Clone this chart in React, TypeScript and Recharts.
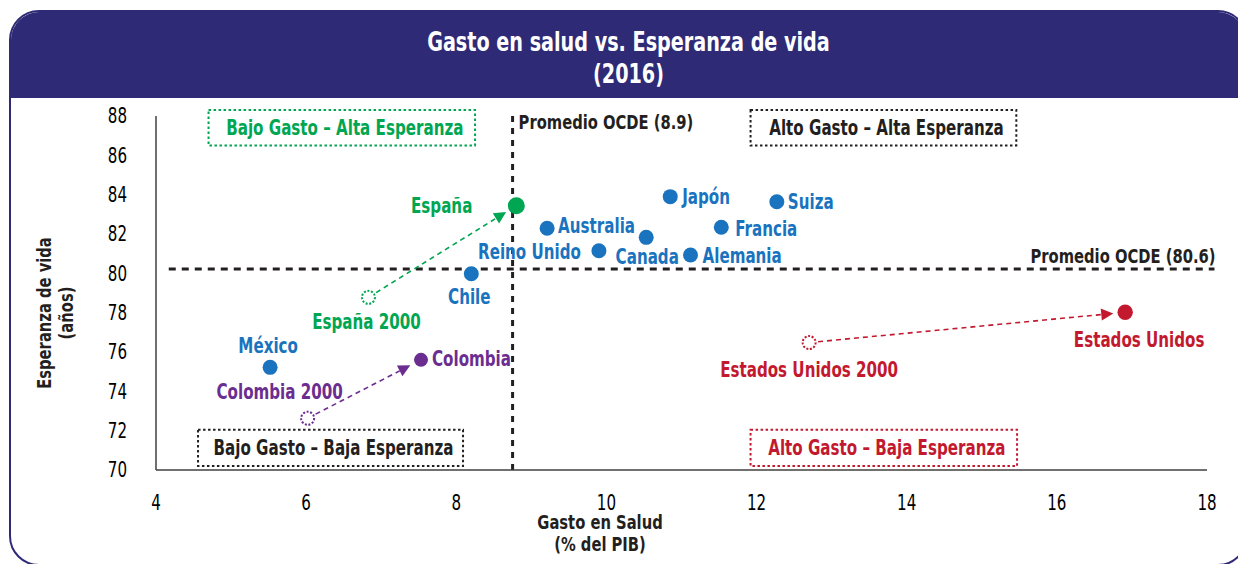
import React from 'react';
import { ScatterChart, Scatter, XAxis, YAxis, ReferenceLine, ReferenceArea, Label } from 'recharts';

const FONT = '"DejaVu Sans Condensed", "DejaVu Sans", sans-serif';
const SQUASH = 0.82; // the original uses a narrow face
const NAVY = '#2E2A76';
const BLUE = '#1A73BE';
const INK = '#231F20';

// paises OCDE (2016)
const paises = ['Japón', 'Suiza', 'Australia', 'Francia', 'Canada', 'Reino Unido', 'Alemania', 'Chile', 'México'];
const gastoPaises = [10.85, 12.27, 9.21, 11.53, 10.53, 9.9, 11.12, 8.2, 5.52];
const vidaPaises = [83.9, 83.64, 82.29, 82.34, 81.83, 81.15, 80.93, 79.98, 75.22];

// paises destacados, 2016 vs 2000
const destacados = ['España', 'Colombia', 'Estados Unidos'];
const gasto2016 = [8.8, 7.53, 16.91];
const vida2016 = [83.44, 75.6, 78.02];
const gasto2000 = [6.83, 6.02, 12.7];
const vida2000 = [78.78, 72.63, 76.48];
const coloresDestacados = ['#00A651', '#6B2D90', '#C3192F'];
const radiosDestacados = [8.5, 7, 7.7];

// promedios OCDE (posicion dibujada)
const lineaGasto = 8.75;
const lineaVida = 80.22;
const textoGasto = 'Promedio OCDE (8.9)';
const textoVida = 'Promedio OCDE (80.6)';

// cuadrantes
const cuadrantes = ['Bajo Gasto – Alta Esperanza', 'Alto Gasto – Alta Esperanza', 'Bajo Gasto – Baja Esperanza', 'Alto Gasto – Baja Esperanza'];
const cuadX1 = [4.7, 11.92, 4.56, 11.92];
const cuadX2 = [8.25, 15.46, 8.09, 15.47];
const cuadY1 = [86.5, 86.5, 70.2, 70.2];
const cuadY2 = [88.3, 88.3, 72.05, 72.05];
const coloresCuad = ['#00A651', INK, INK, '#C3192F'];

const xTicks = [4, 6, 8, 10, 12, 14, 16, 18];
const yTicks = [70, 72, 74, 76, 78, 80, 82, 84, 86, 88];

// donde va cada etiqueta respecto a su punto
const etiquetas: Record<string, { dx: number; dy: number; anchor: 'start' | 'middle' | 'end' }> = {
    'Japón': { dx: 12, dy: 0, anchor: 'start' },
    'Suiza': { dx: 11, dy: 0, anchor: 'start' },
    'Australia': { dx: 11, dy: -3, anchor: 'start' },
    'Francia': { dx: 14, dy: 1, anchor: 'start' },
    'Canada': { dx: 1, dy: 19, anchor: 'middle' },
    'Reino Unido': { dx: -18, dy: 1, anchor: 'end' },
    'Alemania': { dx: 12, dy: 1, anchor: 'start' },
    'Chile': { dx: -2, dy: 23, anchor: 'middle' },
    'México': { dx: -2, dy: -22, anchor: 'middle' },
    'España': { dx: -44, dy: 0, anchor: 'end' },
    'Colombia': { dx: 11, dy: -1, anchor: 'start' },
    'Estados Unidos': { dx: 14, dy: 27, anchor: 'middle' },
    'España 2000': { dx: -2, dy: 24, anchor: 'middle' },
    'Colombia 2000': { dx: -28, dy: -27, anchor: 'middle' },
    'Estados Unidos 2000': { dx: 0, dy: 27, anchor: 'middle' },
};

const datosPaises = paises.map((name, i) => ({ name, x: gastoPaises[i], y: vidaPaises[i] }));

// texto angosto: centrado verticalmente en y
const T = ({ x, y, anchor = 'start', fill = INK, size = 20, bold = true, rotate = 0, children }: any) => (
    <text transform={`translate(${x},${y}) rotate(${rotate}) scale(${SQUASH},1)`} dy="0.36em" textAnchor={anchor}
        fill={fill} fontFamily={FONT} fontWeight={bold ? 700 : 400} fontSize={size}>{children}</text>
);

const punto = (color: string, r: number, abierto = false) => (props: any) => {
    const { cx, cy, payload } = props;
    const e = etiquetas[payload.name] || { dx: 10, dy: 0, anchor: 'start' };
    return (
        <g>
            {abierto
                ? <circle cx={cx} cy={cy} r={r} fill="#fff" stroke={color} strokeWidth={2} strokeDasharray="2 1.6" />
                : <circle cx={cx} cy={cy} r={r} fill={color} />}
            <T x={cx + e.dx} y={cy + e.dy} anchor={e.anchor} fill={color} size={20.5}>{payload.name}</T>
        </g>
    );
};

const flecha = (color: string) => (props: any) => {
    const { x1, y1, x2, y2 } = props;
    const len = Math.hypot(x2 - x1, y2 - y1) || 1;
    const ux = (x2 - x1) / len, uy = (y2 - y1) / len;
    const sx = x1 + ux * 9, sy = y1 + uy * 9;
    const ex = x2 - ux * 12, ey = y2 - uy * 12;
    const bx = ex - ux * 12, by = ey - uy * 12;
    return (
        <g>
            <line x1={sx} y1={sy} x2={bx} y2={by} stroke={color} strokeWidth={1.6} strokeDasharray="5 4" />
            <polygon points={`${ex},${ey} ${bx - uy * 6},${by + ux * 6} ${bx + uy * 6},${by - ux * 6}`} fill={color} />
        </g>
    );
};

const cuadro = (i: number) => (props: any) => {
    const { x, y, width, height } = props;
    return (
        <g>
            <rect x={x} y={y} width={width} height={height} fill="none" stroke={coloresCuad[i]}
                strokeWidth={2} strokeDasharray="2.5 2.5" />
            <T x={x + width / 2 + 3} y={y + height / 2} anchor="middle" fill={coloresCuad[i]} size={20.5}>{cuadrantes[i]}</T>
        </g>
    );
};

const lineaVertical = (props: any) => {
    const { x1, y1, x2, y2 } = props;
    const top = Math.min(y1, y2);
    return (
        <g>
            <line x1={x1} y1={y1} x2={x2} y2={y2} stroke={INK} strokeWidth={3} strokeDasharray="6 6" />
            <T x={x1 + 6} y={top + 12}>{textoGasto}</T>
        </g>
    );
};

const lineaHorizontal = (props: any) => {
    const { x1, y1, x2, y2 } = props;
    const right = Math.max(x1, x2);
    return (
        <g>
            <line x1={x1} y1={y1} x2={x2} y2={y2} stroke={INK} strokeWidth={3} strokeDasharray="7 6" />
            <T x={right + 1} y={y1 - 13} anchor="end">{textoVida}</T>
        </g>
    );
};

const TickX = (props: any) => (
    <T x={props.x} y={props.y + 8} anchor="middle" fill="#000" bold={false} size={20.5}>{props.payload.value}</T>
);

const TickY = (props: any) => (
    <T x={props.x} y={props.y} anchor="end" fill="#000" bold={false} size={20.5}>{props.payload.value}</T>
);

const TituloX = (props: any) => {
    const { x, y } = props.viewBox;
    return (
        <g>
            <T x={x + 444} y={y + 52} anchor="middle">Gasto en Salud</T>
            <T x={x + 444} y={y + 74} anchor="middle">(% del PIB)</T>
        </g>
    );
};

const TituloY = (props: any) => {
    const { y, height } = props.viewBox;
    const cy = y + height / 2 + 20;
    return (
        <g>
            <T x={44} y={cy} anchor="middle" rotate={-90}>Esperanza de vida</T>
            <T x={66} y={cy} anchor="middle" rotate={-90}>(años)</T>
        </g>
    );
};

export default function App() {
    return (
        <div style={{ position: 'absolute', left: 0, top: 0, width: 1238, height: 564, overflow: 'hidden', background: '#fff' }}>
            <div style={{
                position: 'absolute', left: 9, top: 10, width: 1239, height: 556, boxSizing: 'border-box',
                border: `2px solid ${NAVY}`, borderRadius: 30, overflow: 'hidden',
            }}>
                <div style={{
                    height: 86, background: NAVY, color: '#fff', textAlign: 'center', fontFamily: FONT,
                    fontWeight: 700, fontSize: 26, lineHeight: '32px', paddingTop: 14, boxSizing: 'border-box',
                }}>
                    <div style={{ transform: `scaleX(${SQUASH})` }}>Gasto en salud vs. Esperanza de vida</div>
                    <div style={{ transform: `scaleX(${SQUASH})` }}>(2016)</div>
                </div>
            </div>
            <div style={{ position: 'absolute', left: 0, top: 0 }}>
                <ScatterChart width={1238} height={564} margin={{ top: 116, right: 31, bottom: 0, left: 0 }}>
                    <XAxis type="number" dataKey="x" domain={[4, 18]} ticks={xTicks} height={94}
                        axisLine={{ stroke: '#404040', strokeWidth: 1.5 }} tickLine={false} tickMargin={19}
                        tick={TickX} label={<Label content={TituloX} />} />
                    <YAxis type="number" dataKey="y" domain={[70, 88]} ticks={yTicks} width={156}
                        axisLine={{ stroke: '#404040', strokeWidth: 1.5 }} tickLine={false} tickMargin={23}
                        tick={TickY} label={<Label content={TituloY} />} />
                    {cuadrantes.map((c, i) => (
                        <ReferenceArea key={c} x1={cuadX1[i]} x2={cuadX2[i]} y1={cuadY1[i]} y2={cuadY2[i]}
                            ifOverflow="visible" shape={cuadro(i)} />
                    ))}
                    <ReferenceLine segment={[{ x: lineaGasto, y: 70 }, { x: lineaGasto, y: 88.3 }]} ifOverflow="visible" shape={lineaVertical} />
                    <ReferenceLine segment={[{ x: 4.17, y: lineaVida }, { x: 18.1, y: lineaVida }]} ifOverflow="visible" shape={lineaHorizontal} />
                    {destacados.map((n, i) => (
                        <ReferenceLine key={'f' + n} segment={[{ x: gasto2000[i], y: vida2000[i] }, { x: gasto2016[i], y: vida2016[i] }]}
                            ifOverflow="visible" shape={flecha(coloresDestacados[i])} />
                    ))}
                    <Scatter data={datosPaises} shape={punto(BLUE, 7.5)} isAnimationActive={false} />
                    {destacados.map((n, i) => (
                        <Scatter key={n} data={[{ name: n, x: gasto2016[i], y: vida2016[i] }]}
                            shape={punto(coloresDestacados[i], radiosDestacados[i])} isAnimationActive={false} />
                    ))}
                    {destacados.map((n, i) => (
                        <Scatter key={n + '2000'} data={[{ name: n + ' 2000', x: gasto2000[i], y: vida2000[i] }]}
                            shape={punto(coloresDestacados[i], 6.5, true)} isAnimationActive={false} />
                    ))}
                </ScatterChart>
            </div>
        </div>
    );
}
